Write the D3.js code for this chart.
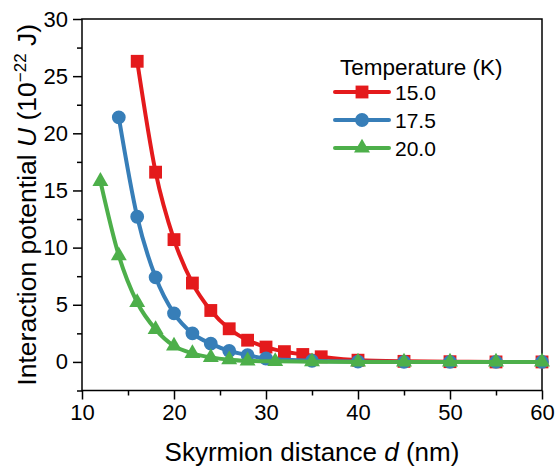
<!DOCTYPE html>
<html>
<head>
<meta charset="utf-8">
<script src="https://cdn.jsdelivr.net/npm/d3@7"></script>
<style>
  body { margin: 0; background: #fff; }
  svg { display: block; font-family: "Liberation Sans", Arial, sans-serif; }
</style>
</head>
<body>
<div class="chart"></div>
<script>
// data
const temps = ["15.0", "17.5", "20.0"];
const colors = ["#e41a1c", "#377eb8", "#4daf4a"];
const shapes = ["square", "circle", "triangle"];

const d15 = [16, 18, 20, 22, 24, 26, 28, 30, 32, 34, 36, 40, 45, 50, 55, 60];
const u15 = [26.3, 16.6, 10.7, 6.9, 4.5, 2.9, 1.9, 1.3, 0.9, 0.65, 0.45, 0.15, 0.05, 0.02, 0, 0];

const d175 = [14, 16, 18, 20, 22, 24, 26, 28, 30, 35, 40, 45, 50, 55, 60];
const u175 = [21.4, 12.7, 7.4, 4.25, 2.5, 1.6, 0.97, 0.6, 0.3, 0.1, 0.03, 0, 0, 0, 0];

const d20 = [12, 14, 16, 18, 20, 22, 24, 26, 28, 31, 35, 40, 45, 50, 55, 60];
const u20 = [15.8, 9.3, 5.2, 2.85, 1.4, 0.75, 0.4, 0.2, 0.1, 0.05, 0.02, 0, 0, 0, 0, 0];

const xTicks = [10, 20, 30, 40, 50, 60];
const yTicks = [0, 5, 10, 15, 20, 25, 30];

const series = [
    {name: temps[0], d: d15, u: u15},
    {name: temps[1], d: d175, u: u175},
    {name: temps[2], d: d20, u: u20}
];

const W = 556, H = 466;
const margin = {top: 19, right: 14, bottom: 75.5, left: 82};
const width = W - margin.left - margin.right,
    height = H - margin.top - margin.bottom;

const svg = d3.select(".chart")
    .append("svg")
        .attr("width", W)
        .attr("height", H)
    .append("g")
        .attr("transform", "translate(" + margin.left + "," + margin.top + ")");

const x = d3.scaleLinear().domain([10, 60]).range([0, width]);
const y = d3.scaleLinear().domain([-2.5, 30]).range([height, 0]);

// frame
svg.append("rect")
    .attr("width", width)
    .attr("height", height)
    .attr("fill", "none")
    .attr("stroke", "#000")
    .attr("stroke-width", 1.5);

// x axis, major + minor ticks
const xMinor = xTicks.slice(0, -1).map(v => v + 5);
svg.append("g")
    .attr("transform", "translate(0," + height + ")")
    .call(d3.axisBottom(x).tickValues(xMinor).tickSize(5).tickFormat(""))
    .call(g => g.select(".domain").remove())
    .selectAll("line").attr("stroke-width", 1.5);

const xAxis = svg.append("g")
    .attr("transform", "translate(0," + height + ")")
    .call(d3.axisBottom(x).tickValues(xTicks).tickSize(9).tickPadding(5));
xAxis.select(".domain").remove();
xAxis.selectAll("line").attr("stroke-width", 1.5);
xAxis.selectAll("text")
    .attr("font-size", 22)
    .attr("fill", "#000")
    .attr("font-family", "Liberation Sans, Arial, sans-serif");

// y axis
const yMinor = [-2.5].concat(yTicks.slice(0, -1).map(v => v + 2.5));
svg.append("g")
    .call(d3.axisLeft(y).tickValues(yMinor).tickSize(5).tickFormat(""))
    .call(g => g.select(".domain").remove())
    .selectAll("line").attr("stroke-width", 1.5);

const yAxis = svg.append("g")
    .call(d3.axisLeft(y).tickValues(yTicks).tickSize(9).tickPadding(5));
yAxis.select(".domain").remove();
yAxis.selectAll("line").attr("stroke-width", 1.5);
yAxis.selectAll("text")
    .attr("font-size", 22)
    .attr("fill", "#000")
    .attr("font-family", "Liberation Sans, Arial, sans-serif");

// axis titles
const xt = svg.append("text")
    .attr("x", width / 2)
    .attr("y", 442)
    .attr("text-anchor", "middle")
    .attr("font-size", 26)
    .attr("fill", "#000");
xt.append("tspan").text("Skyrmion distance ");
xt.append("tspan").attr("font-style", "italic").text("d");
xt.append("tspan").text(" (nm)");

const yt = svg.append("text")
    .attr("transform", "translate(" + (36 - margin.left) + "," + (height / 2) + ") rotate(-90)")
    .attr("text-anchor", "middle")
    .attr("font-size", 26.5)
    .attr("fill", "#000");
yt.append("tspan").text("Interaction potential ");
yt.append("tspan").attr("font-style", "italic").text("U");
yt.append("tspan").text(" (10");
yt.append("tspan").attr("font-size", 17).attr("dy", -10).text("\u221222");
yt.append("tspan").attr("dy", 10).text(" J)");

// markers
const sym = {
    square: d3.symbol(d3.symbolSquare, 165),
    circle: d3.symbol(d3.symbolCircle, 150),
    triangle: d3.symbol(d3.symbolTriangle, 110)
};

const line = d3.line()
    .x(p => x(p[0]))
    .y(p => y(p[1]))
    .curve(d3.curveMonotoneX);

series.forEach(function (s, i) {
    const pts = s.d.map((v, j) => [v, s.u[j]]);
    const g = svg.append("g");
    g.append("path")
        .datum(pts)
        .attr("d", line)
        .attr("fill", "none")
        .attr("stroke", colors[i])
        .attr("stroke-width", 4)
        .attr("stroke-linejoin", "round");
    g.selectAll("path.mk")
        .data(pts)
        .enter()
        .append("path")
            .attr("class", "mk")
            .attr("d", sym[shapes[i]])
            .attr("transform", p => "translate(" + x(p[0]) + "," + y(p[1]) + ")")
            .attr("fill", colors[i]);
});

// legend
const leg = svg.append("g").attr("transform", "translate(" + (335 - margin.left) + "," + (75 - margin.top) + ")");
leg.append("text")
    .attr("x", 5)
    .attr("y", 0)
    .attr("font-size", 22.5)
    .attr("fill", "#000")
    .text("Temperature (K)");

series.forEach(function (s, i) {
    const ly = 17 + i * 28;
    const row = leg.append("g").attr("transform", "translate(0," + ly + ")");
    row.append("line")
        .attr("x1", 0).attr("x2", 54)
        .attr("stroke", colors[i])
        .attr("stroke-width", 4)
        .attr("stroke-linecap", "round");
    row.append("path")
        .attr("d", sym[shapes[i]])
        .attr("transform", "translate(27,0)")
        .attr("fill", colors[i]);
    row.append("text")
        .attr("x", 60)
        .attr("dy", "0.36em")
        .attr("font-size", 21)
        .attr("fill", "#000")
        .text(s.name);
});
</script>
</body>
</html>
